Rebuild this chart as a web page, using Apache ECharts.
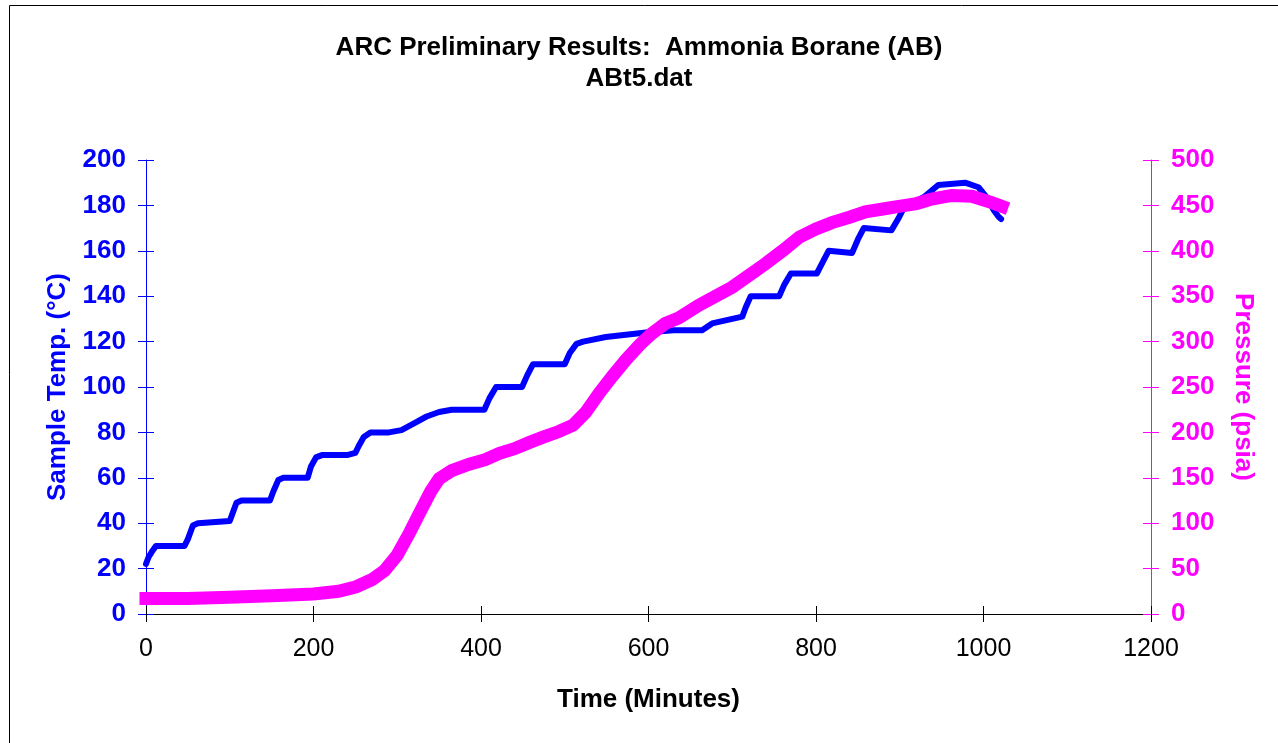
<!DOCTYPE html>
<html>
<head>
<meta charset="utf-8">
<script src="https://cdn.jsdelivr.net/npm/echarts@6/dist/echarts.min.js"></script>
<style>
  html, body { margin: 0; padding: 0; background: #fff; }
  #chart { width: 1278px; height: 743px; }
</style>
</head>
<body>
<div id="chart"></div>
<script>
// sample temperature (deg C) vs time (min)
var tempTime = [0, 3, 8, 12, 46, 50, 56, 62, 100, 104, 108, 114, 148, 152, 158, 164, 193, 197, 203, 210,
  240, 250, 254, 260, 268, 290, 305, 320, 335, 350, 365, 404, 410, 418, 449, 455, 462, 500, 506, 514,
  522, 549, 597, 630, 664, 676, 712, 716, 722, 756, 762, 770, 801, 808, 815, 843, 850, 857, 890, 898,
  905, 916, 930, 946, 978, 994, 1005, 1012, 1018, 1021];
var tempValues = [22, 25, 28, 30, 30, 33, 39, 40, 41, 45, 49, 50, 50, 54, 59, 60, 60, 65, 69, 70,
  70, 71, 74, 78, 80, 80, 81, 84, 87, 89, 90, 90, 95, 100, 100, 105, 110, 110, 115, 119,
  120, 122, 124, 125, 125, 128, 131, 135, 140, 140, 145, 150, 150, 155, 160, 159, 165, 170, 169, 174,
  179, 181, 184, 189, 190, 188, 183, 178, 175, 174];

// pressure (psia) vs time (min)
var presTime = [0, 50, 100, 150, 200, 230, 251, 270, 285, 300, 315, 327, 340, 350, 365, 386, 405, 422,
  440, 458, 475, 493, 510, 525, 541, 557, 573, 590, 604, 620, 636, 660, 680, 700, 720, 740, 760, 780,
  800, 819, 840, 859, 880, 899, 920, 938, 962, 986, 1010, 1022];
var presValues = [17, 17, 18.5, 20, 22, 25, 30, 38, 48, 65, 90, 112, 135, 149, 158, 165, 170, 177,
  182, 189, 195, 201, 208, 222, 243, 262, 280, 297, 309, 320, 326, 340, 350, 360, 373, 386, 400, 415,
  424, 431, 437, 443, 446, 449, 452, 457, 461, 460, 453, 449];

var xTicks = [0, 1200, 200];
var tempTicks = [0, 200, 20];
var presTicks = [0, 500, 50];

function pairs(xs, ys) {
  return xs.map(function (x, i) { return [x, ys[i]]; });
}

var font = 'Liberation Sans, Arial, sans-serif';
var BLUE = '#0000ff';
var PINK = '#ff00ff';

var chart = echarts.init(document.getElementById('chart'), null, { renderer: 'canvas' });

var option = {
  animation: false,
  backgroundColor: '#fff',
  title: {
    text: 'ARC Preliminary Results:  Ammonia Borane (AB)\nABt5.dat',
    left: 'center',
    top: 27,
    textStyle: { fontFamily: font, fontSize: 26, fontWeight: 'bold', color: '#000', lineHeight: 31 }
  },
  graphic: [{
    type: 'rect',
    shape: { x: 9.5, y: 5.5, width: 1400, height: 900 },
    style: { fill: 'none', stroke: '#000', lineWidth: 1 },
    silent: true
  }],
  grid: { left: 146, right: 127, top: 160, bottom: 129 },
  xAxis: [{
    type: 'value',
    min: xTicks[0], max: xTicks[1], interval: xTicks[2],
    name: 'Time (Minutes)',
    nameLocation: 'middle',
    nameGap: 73,
    nameTextStyle: { fontFamily: font, fontSize: 26, fontWeight: 'bold', color: '#000' },
    axisLine: { show: true, onZero: false, lineStyle: { color: '#000', width: 1 } },
    axisTick: { show: true, length: 8, lineStyle: { color: '#000' } },
    axisLabel: {
      fontFamily: font, fontSize: 25, color: '#000', margin: 23,
      formatter: function (v) { return String(v); }
    },
    splitLine: { show: false }
  }, {
    type: 'value', position: 'bottom',
    min: xTicks[0], max: xTicks[1], interval: xTicks[2],
    axisLine: { show: false, onZero: false },
    axisTick: { show: true, inside: true, length: 8, lineStyle: { color: '#000' } },
    axisLabel: { show: false },
    splitLine: { show: false }
  }],
  yAxis: [{
    type: 'value', position: 'left',
    min: tempTicks[0], max: tempTicks[1], interval: tempTicks[2],
    name: 'Sample Temp. (°C)',
    nameLocation: 'middle',
    nameGap: 75,
    nameTextStyle: { fontFamily: font, fontSize: 26, fontWeight: 'bold', color: BLUE },
    axisLine: { show: true, onZero: false, lineStyle: { color: BLUE, width: 1 } },
    axisTick: { show: true, length: 8, lineStyle: { color: BLUE } },
    axisLabel: { fontFamily: font, fontSize: 26, fontWeight: 'bold', color: BLUE, margin: 20 },
    splitLine: { show: false }
  }, {
    type: 'value', position: 'right',
    min: presTicks[0], max: presTicks[1], interval: presTicks[2],
    name: 'Pressure (psia)',
    nameLocation: 'middle',
    nameGap: 79,
    nameRotate: -90,
    nameTextStyle: { fontFamily: font, fontSize: 26, fontWeight: 'bold', color: PINK },
    axisLine: { show: true, onZero: false, lineStyle: { color: PINK, width: 1 } },
    axisTick: { show: true, length: 8, lineStyle: { color: PINK } },
    axisLabel: { fontFamily: font, fontSize: 26, fontWeight: 'bold', color: PINK, margin: 20 },
    splitLine: { show: false }
  }, {
    type: 'value', position: 'left',
    min: tempTicks[0], max: tempTicks[1], interval: tempTicks[2],
    axisLine: { show: false, onZero: false },
    axisTick: { show: true, inside: true, length: 8, lineStyle: { color: BLUE } },
    axisLabel: { show: false },
    splitLine: { show: false }
  }, {
    type: 'value', position: 'right',
    min: presTicks[0], max: presTicks[1], interval: presTicks[2],
    axisLine: { show: false, onZero: false },
    axisTick: { show: true, inside: true, length: 8, lineStyle: { color: PINK } },
    axisLabel: { show: false },
    splitLine: { show: false }
  }],
  series: [{
    name: 'Sample Temp.',
    type: 'line',
    xAxisIndex: 0,
    yAxisIndex: 0,
    showSymbol: false,
    data: pairs(tempTime, tempValues),
    lineStyle: { color: BLUE, width: 6, cap: 'round', join: 'round' },
    z: 3
  }, {
    name: 'Pressure',
    type: 'line',
    xAxisIndex: 0,
    yAxisIndex: 1,
    showSymbol: false,
    data: pairs(presTime, presValues),
    lineStyle: { color: PINK, width: 13, cap: 'square', join: 'miter' },
    z: 4
  }]
};

chart.setOption(option);
</script>
</body>
</html>
